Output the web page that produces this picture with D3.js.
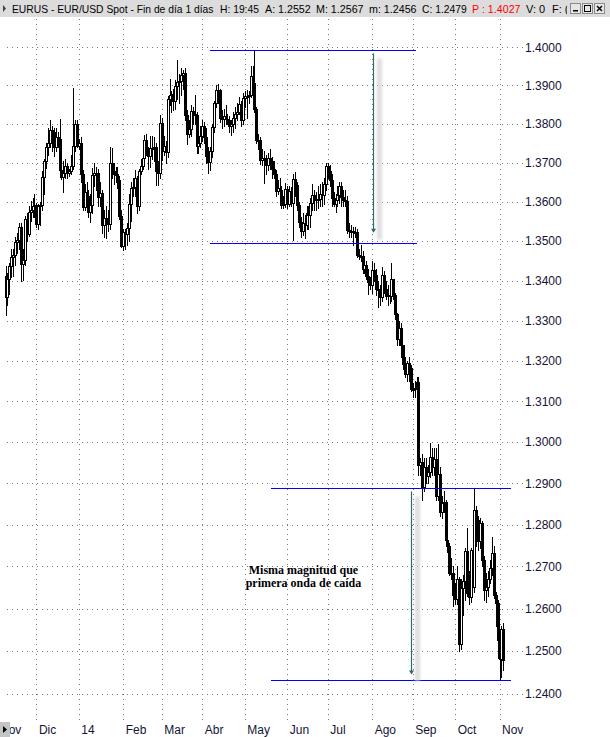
<!DOCTYPE html>
<html>
<head>
<meta charset="utf-8">
<script src="https://cdn.jsdelivr.net/npm/d3@7"></script>
<style>
  body { margin: 0; background: #fff; }
  svg { display: block; }
</style>
</head>
<body>
<svg id="chart" width="610" height="737"></svg>
<script>
// EUR/USD daily bars, one array per month: [open, high, low, close]
const nov13 = [
  [1.3412,1.3436,1.3315,1.3360],[1.3360,1.3418,1.3340,1.3405],[1.3405,1.3445,1.3366,1.3437],
  [1.3437,1.3480,1.3410,1.3460],[1.3460,1.3480,1.3412,1.3464],[1.3464,1.3510,1.3440,1.3497],
  [1.3497,1.3520,1.3470,1.3502],[1.3502,1.3545,1.3480,1.3535],[1.3535,1.3545,1.3400,1.3443],
  [1.3443,1.3480,1.3401,1.3451],[1.3451,1.3563,1.3440,1.3557],[1.3557,1.3570,1.3500,1.3519],
  [1.3519,1.3590,1.3512,1.3575],[1.3575,1.3601,1.3550,1.3580],[1.3580,1.3610,1.3560,1.3590],
  [1.3590,1.3620,1.3560,1.3591]
];
const dec13 = [
  [1.3591,1.3597,1.3535,1.3542],[1.3542,1.3595,1.3530,1.3588],[1.3588,1.3600,1.3540,1.3591],
  [1.3591,1.3678,1.3578,1.3663],[1.3663,1.3710,1.3620,1.3705],[1.3705,1.3750,1.3686,1.3741],
  [1.3741,1.3790,1.3720,1.3752],[1.3752,1.3811,1.3740,1.3784],[1.3784,1.3795,1.3730,1.3778],
  [1.3778,1.3790,1.3716,1.3741],[1.3741,1.3790,1.3730,1.3767],[1.3767,1.3780,1.3740,1.3761],
  [1.3761,1.3812,1.3680,1.3680],[1.3680,1.3700,1.3657,1.3662],[1.3662,1.3705,1.3625,1.3673],
  [1.3673,1.3710,1.3660,1.3692],[1.3692,1.3700,1.3660,1.3673],[1.3673,1.3685,1.3665,1.3678],
  [1.3678,1.3720,1.3670,1.3692],[1.3692,1.3893,1.3685,1.3743],[1.3743,1.3810,1.3730,1.3799],
  [1.3799,1.3810,1.3740,1.3743]
];
const jan14 = [
  [1.3743,1.3760,1.3735,1.3752],[1.3752,1.3765,1.3650,1.3672],[1.3672,1.3680,1.3580,1.3587],
  [1.3587,1.3645,1.3580,1.3625],[1.3625,1.3650,1.3595,1.3614],[1.3614,1.3630,1.3560,1.3575],
  [1.3575,1.3620,1.3548,1.3591],[1.3591,1.3687,1.3570,1.3668],[1.3668,1.3700,1.3640,1.3674],
  [1.3674,1.3690,1.3630,1.3673],[1.3673,1.3685,1.3590,1.3611],[1.3611,1.3650,1.3590,1.3621],
  [1.3621,1.3630,1.3520,1.3540],[1.3540,1.3580,1.3510,1.3558],[1.3558,1.3590,1.3508,1.3557],
  [1.3557,1.3580,1.3525,1.3542],[1.3542,1.3740,1.3530,1.3698],[1.3698,1.3738,1.3660,1.3678],
  [1.3678,1.3700,1.3645,1.3672],[1.3672,1.3690,1.3650,1.3670],[1.3670,1.3690,1.3635,1.3656],
  [1.3656,1.3665,1.3555,1.3564],[1.3564,1.3580,1.3485,1.3487]
];
const feb14 = [
  [1.3487,1.3530,1.3477,1.3522],[1.3522,1.3530,1.3480,1.3518],[1.3518,1.3545,1.3490,1.3532],
  [1.3532,1.3620,1.3500,1.3594],[1.3594,1.3650,1.3550,1.3635],[1.3635,1.3660,1.3615,1.3637],
  [1.3637,1.3680,1.3615,1.3661],[1.3661,1.3665,1.3572,1.3589],[1.3589,1.3685,1.3580,1.3679],
  [1.3679,1.3710,1.3670,1.3692],[1.3692,1.3735,1.3685,1.3712],[1.3712,1.3772,1.3700,1.3758],
  [1.3758,1.3773,1.3720,1.3727],[1.3727,1.3740,1.3685,1.3716],[1.3716,1.3770,1.3690,1.3738],
  [1.3738,1.3770,1.3710,1.3738],[1.3738,1.3765,1.3705,1.3741],[1.3741,1.3750,1.3643,1.3678],
  [1.3678,1.3705,1.3642,1.3673],[1.3673,1.3824,1.3660,1.3802]
];
const mar14 = [
  [1.3802,1.3815,1.3706,1.3731],[1.3731,1.3770,1.3720,1.3743],[1.3743,1.3755,1.3700,1.3728],
  [1.3728,1.3872,1.3715,1.3866],[1.3866,1.3916,1.3850,1.3874],[1.3874,1.3885,1.3830,1.3877],
  [1.3877,1.3890,1.3835,1.3860],[1.3860,1.3915,1.3840,1.3899],[1.3899,1.3967,1.3865,1.3909],
  [1.3909,1.3930,1.3855,1.3913],[1.3913,1.3945,1.3875,1.3928],[1.3928,1.3940,1.3890,1.3932],
  [1.3932,1.3945,1.3810,1.3823],[1.3823,1.3835,1.3749,1.3775],[1.3775,1.3810,1.3765,1.3786],
  [1.3786,1.3848,1.3770,1.3833],[1.3833,1.3845,1.3800,1.3825],[1.3825,1.3875,1.3800,1.3822],
  [1.3822,1.3830,1.3726,1.3742],[1.3742,1.3770,1.3725,1.3750],[1.3750,1.3795,1.3740,1.3769]
];
const apr14 = [
  [1.3769,1.3810,1.3755,1.3794],[1.3794,1.3805,1.3750,1.3767],[1.3767,1.3790,1.3700,1.3718],
  [1.3718,1.3740,1.3673,1.3703],[1.3703,1.3740,1.3680,1.3729],[1.3729,1.3800,1.3715,1.3792],
  [1.3792,1.3860,1.3780,1.3855],[1.3855,1.3900,1.3845,1.3889],[1.3889,1.3905,1.3855,1.3888],
  [1.3888,1.3890,1.3805,1.3815],[1.3815,1.3835,1.3790,1.3814],[1.3814,1.3840,1.3795,1.3820],
  [1.3820,1.3850,1.3800,1.3814],[1.3814,1.3825,1.3800,1.3811],[1.3811,1.3820,1.3780,1.3794],
  [1.3794,1.3810,1.3772,1.3800],[1.3800,1.3830,1.3780,1.3816],[1.3816,1.3845,1.3790,1.3827],
  [1.3827,1.3855,1.3810,1.3831],[1.3831,1.3870,1.3825,1.3851],[1.3851,1.3860,1.3795,1.3810],
  [1.3810,1.3880,1.3800,1.3867]
];
const may14 = [
  [1.3867,1.3885,1.3845,1.3873],[1.3873,1.3888,1.3815,1.3872],[1.3872,1.3885,1.3855,1.3875],
  [1.3875,1.3951,1.3870,1.3926],[1.3926,1.3950,1.3890,1.3907],[1.3907,1.3993,1.3830,1.3838],
  [1.3838,1.3845,1.3750,1.3759],[1.3759,1.3775,1.3735,1.3759],[1.3759,1.3765,1.3696,1.3708],
  [1.3708,1.3735,1.3695,1.3712],[1.3712,1.3730,1.3647,1.3712],[1.3712,1.3720,1.3670,1.3695],
  [1.3695,1.3725,1.3680,1.3712],[1.3712,1.3735,1.3685,1.3704],[1.3704,1.3715,1.3660,1.3684],
  [1.3684,1.3705,1.3660,1.3670],[1.3670,1.3680,1.3615,1.3627],[1.3627,1.3655,1.3620,1.3635],
  [1.3635,1.3660,1.3600,1.3631],[1.3631,1.3640,1.3585,1.3591],[1.3591,1.3615,1.3585,1.3595],
  [1.3595,1.3648,1.3586,1.3633]
];
const jun14 = [
  [1.3633,1.3640,1.3585,1.3593],[1.3593,1.3640,1.3590,1.3628],[1.3628,1.3637,1.3590,1.3598],
  [1.3598,1.3670,1.3503,1.3659],[1.3659,1.3677,1.3615,1.3642],[1.3642,1.3650,1.3580,1.3591],
  [1.3591,1.3600,1.3535,1.3549],[1.3549,1.3560,1.3510,1.3526],[1.3526,1.3570,1.3515,1.3547],
  [1.3547,1.3565,1.3507,1.3540],[1.3540,1.3590,1.3530,1.3570],[1.3570,1.3590,1.3530,1.3565],
  [1.3565,1.3610,1.3535,1.3597],[1.3597,1.3645,1.3580,1.3618],[1.3618,1.3630,1.3580,1.3606],
  [1.3606,1.3625,1.3580,1.3604],[1.3604,1.3640,1.3585,1.3607],[1.3607,1.3645,1.3590,1.3620],
  [1.3620,1.3650,1.3590,1.3618],[1.3618,1.3660,1.3595,1.3645],[1.3645,1.3700,1.3630,1.3692]
];
const jul14 = [
  [1.3692,1.3700,1.3660,1.3678],[1.3678,1.3695,1.3640,1.3655],[1.3655,1.3670,1.3590,1.3610],
  [1.3610,1.3625,1.3590,1.3595],[1.3595,1.3620,1.3575,1.3604],[1.3604,1.3640,1.3590,1.3617],
  [1.3617,1.3650,1.3598,1.3640],[1.3640,1.3650,1.3590,1.3611],[1.3611,1.3630,1.3590,1.3604],
  [1.3604,1.3630,1.3590,1.3602],[1.3602,1.3615,1.3520,1.3527],[1.3527,1.3545,1.3510,1.3525],
  [1.3525,1.3540,1.3510,1.3525],[1.3525,1.3536,1.3490,1.3524],[1.3524,1.3535,1.3510,1.3523],
  [1.3523,1.3530,1.3460,1.3465],[1.3465,1.3480,1.3455,1.3463],[1.3463,1.3490,1.3450,1.3461],
  [1.3461,1.3475,1.3420,1.3430],[1.3430,1.3450,1.3420,1.3440],[1.3440,1.3450,1.3405,1.3411],
  [1.3411,1.3430,1.3367,1.3396],[1.3396,1.3410,1.3380,1.3389]
];
const aug14 = [
  [1.3389,1.3450,1.3370,1.3428],[1.3428,1.3445,1.3400,1.3414],[1.3414,1.3430,1.3365,1.3380],
  [1.3380,1.3400,1.3333,1.3377],[1.3377,1.3390,1.3340,1.3359],[1.3359,1.3435,1.3350,1.3413],
  [1.3413,1.3425,1.3370,1.3379],[1.3379,1.3400,1.3355,1.3362],[1.3362,1.3390,1.3340,1.3364],
  [1.3364,1.3395,1.3345,1.3362],[1.3362,1.3445,1.3350,1.3403],[1.3403,1.3405,1.3355,1.3363],
  [1.3363,1.3370,1.3305,1.3316],[1.3316,1.3320,1.3240,1.3253],[1.3253,1.3300,1.3240,1.3282],
  [1.3282,1.3295,1.3210,1.3238],[1.3238,1.3240,1.3180,1.3191],[1.3191,1.3210,1.3160,1.3167],
  [1.3167,1.3200,1.3150,1.3194],[1.3194,1.3210,1.3150,1.3182],[1.3182,1.3190,1.3125,1.3131]
];
const sep14 = [
  [1.3131,1.3145,1.3110,1.3131],[1.3131,1.3150,1.3110,1.3132],[1.3132,1.3160,1.3120,1.3147],
  [1.3147,1.3160,1.2920,1.2944],[1.2944,1.2960,1.2920,1.2952],[1.2952,1.2970,1.2860,1.2890],
  [1.2890,1.2960,1.2880,1.2940],[1.2940,1.2960,1.2900,1.2917],[1.2917,1.2945,1.2900,1.2927],
  [1.2927,1.2997,1.2915,1.2963],[1.2963,1.2985,1.2920,1.2940],[1.2940,1.2985,1.2920,1.2958],
  [1.2958,1.2985,1.2860,1.2868],[1.2868,1.2995,1.2860,1.2922],[1.2922,1.2940,1.2820,1.2830],
  [1.2830,1.2870,1.2815,1.2853],[1.2853,1.2880,1.2830,1.2855],[1.2855,1.2860,1.2755,1.2763],
  [1.2763,1.2790,1.2735,1.2749],[1.2749,1.2755,1.2680,1.2684],[1.2684,1.2720,1.2670,1.2685],
  [1.2685,1.2700,1.2605,1.2631]
];
const oct14 = [
  [1.2631,1.2660,1.2610,1.2623],[1.2623,1.2700,1.2610,1.2669],[1.2669,1.2675,1.2500,1.2517],
  [1.2517,1.2670,1.2505,1.2649],[1.2649,1.2680,1.2585,1.2665],[1.2665,1.2745,1.2620,1.2736],
  [1.2736,1.2791,1.2630,1.2638],[1.2638,1.2690,1.2610,1.2628],[1.2628,1.2745,1.2615,1.2740],
  [1.2740,1.2755,1.2650,1.2652],[1.2652,1.2887,1.2640,1.2835],[1.2835,1.2845,1.2750,1.2812],
  [1.2812,1.2820,1.2740,1.2760],[1.2760,1.2815,1.2745,1.2804],[1.2804,1.2810,1.2700,1.2715],
  [1.2715,1.2725,1.2620,1.2645],[1.2645,1.2685,1.2615,1.2650],[1.2650,1.2690,1.2630,1.2669],
  [1.2669,1.2715,1.2660,1.2697],[1.2697,1.2770,1.2680,1.2733],[1.2733,1.2750,1.2625,1.2631],
  [1.2631,1.2640,1.2560,1.2613],[1.2613,1.2620,1.2484,1.2525]
];
const nov14 = [
  [1.2525,1.2535,1.2435,1.2482],[1.2482,1.2560,1.2440,1.2552],[1.2552,1.2567,1.2456,1.2479]
];

// Month labels on the time axis, in order; the first month starts before the first bar
const monthLabels = ["Nov", "Dic", "14", "Feb", "Mar", "Abr", "May", "Jun", "Jul", "Ago", "Sep", "Oct", "Nov"];
const monthBars = [nov13, dec13, jan14, feb14, mar14, apr14, may14, jun14, jul14, aug14, sep14, oct14, nov14];
const leadInDays = 5;   // weekdays of the first month before the first bar

// Price ticks on the right axis
const priceTicks = [1.40, 1.39, 1.38, 1.37, 1.36, 1.35, 1.34, 1.33, 1.32, 1.31, 1.30,
                    1.29, 1.28, 1.27, 1.26, 1.25, 1.24];

// Horizontal level lines (price, from bar index, to bar index)
const levelLines = [
  { price: 1.3993, from: 106, to: 212.7 },
  { price: 1.3495, from: 106, to: 213.2 },
  { price: 1.2888, from: 137.6, to: 262 },
  { price: 1.2433, from: 137.6, to: 262 }
];
// Vertical arrows measuring each leg of the fall (bar index, from price, to price)
const dropArrows = [
  { at: 190.5, from: 1.3984, to: 1.3521 },
  { at: 210.3, from: 1.2880, to: 1.2445 }
];
const noteLines = ["Misma magnitud que", "primera onda de caída"];
const note = { at: 154.4, price: 1.2683 };

// Title bar pieces: text, left edge, right limit
const titleParts = [
  { text: "EURUS - EUR/USD Spot - Fin de día 1 días", x: 12, end: 214, color: "#000" },
  { text: "H: 19:45", x: 220, end: 259, color: "#000" },
  { text: "A: 1.2552", x: 265, end: 311, color: "#000" },
  { text: "M: 1.2567", x: 316, end: 364, color: "#000" },
  { text: "m: 1.2456", x: 369, end: 417, color: "#000" },
  { text: "C: 1.2479", x: 422, end: 467, color: "#000" },
  { text: "P : 1.4027", x: 472, end: 521, color: "#ff0000" },
  { text: "V: 0", x: 526, end: 547, color: "#000" },
  { text: "F: (", x: 552, end: 580, color: "#000" }
];

// ---- build the bar list ----
const bars = [];
const monthStarts = [];
monthBars.forEach((m, mi) => {
  monthStarts.push(mi === 0 ? -leadInDays : bars.length);
  m.forEach(([o, h, l, c]) => bars.push({ i: bars.length, o, h, l, c }));
});

const svg = d3.select("#chart");
const sans = "'Liberation Sans', Arial, sans-serif";
const axisColor = "#141436";

const x = d3.scaleLinear().domain([0, bars.length - 1]).range([5.5, 503.4]);
const y = d3.scaleLog().domain([1.24, 1.40]).range([693.8, 47.3]);

const defs = svg.append("defs");
defs.append("filter").attr("id", "soft")
  .attr("x", "-100%").attr("y", "-10%").attr("width", "300%").attr("height", "120%")
  .append("feGaussianBlur").attr("stdDeviation", 1.6);
defs.append("clipPath").attr("id", "titleClip")
  .append("rect").attr("x", 0).attr("y", 0).attr("width", 567).attr("height", 18);

// ---- title bar ----
svg.append("rect").attr("x", 0).attr("y", 0).attr("width", 610).attr("height", 17).attr("fill", "#dcdcdc");
svg.append("path").attr("d", "M3,5 L6,8.5 L3,12 Z").attr("fill", "#404040");
const title = svg.append("g").attr("clip-path", "url(#titleClip)");
title.selectAll("text").data(titleParts).join("text")
  .attr("x", d => d.x).attr("y", 13)
  .attr("font-family", sans).attr("font-size", 11)
  .attr("fill", d => d.color)
  .text(d => d.text)
  .each(function (d) {
    // shrink a piece that would run into the next one
    const room = d.end - d.x;
    const w = this.getComputedTextLength();
    if (w > room) d3.select(this).attr("font-size", Math.floor(11 * room / w * 10) / 10);
  });

// window buttons
const btnX = [570, 582, 594];
const btns = svg.append("g");
btnX.forEach((bx, k) => {
  btns.append("rect").attr("x", bx + 0.5).attr("y", 3.5).attr("width", 10).attr("height", 10)
    .attr("fill", "#e6e6e6").attr("stroke", "#8a8a8a");
  if (k === 0) btns.append("rect").attr("x", bx + 3).attr("y", 10).attr("width", 5).attr("height", 1.5).attr("fill", "#000");
  if (k === 1) btns.append("rect").attr("x", bx + 2.5).attr("y", 5.5).attr("width", 6).attr("height", 6)
    .attr("fill", "none").attr("stroke", "#000").attr("stroke-width", 1);
  if (k === 2) btns.append("path").attr("d", `M${bx + 3},6 L${bx + 8},11 M${bx + 8},6 L${bx + 3},11`)
    .attr("stroke", "#000").attr("stroke-width", 1.4);
});

// ---- grid ----
const grid = svg.append("g").attr("stroke", "#7a7a7a").attr("stroke-width", 1)
  .attr("stroke-dasharray", "1,4").attr("shape-rendering", "crispEdges");
grid.selectAll("line.h").data(priceTicks).join("line")
  .attr("class", "h")
  .attr("x1", 7).attr("x2", 523)
  .attr("y1", d => Math.round(y(d)) + 0.5).attr("y2", d => Math.round(y(d)) + 0.5);
grid.selectAll("line.v").data(monthStarts.slice(1)).join("line")
  .attr("class", "v")
  .attr("x1", d => Math.round(x(d)) + 0.5).attr("x2", d => Math.round(x(d)) + 0.5)
  .attr("y1", 19).attr("y2", 720);

// ---- price labels ----
svg.append("g").selectAll("text").data(priceTicks).join("text")
  .attr("x", 525).attr("y", d => y(d) + 4.3)
  .attr("font-family", sans).attr("font-size", 12).attr("fill", axisColor)
  .text(d => d3.format(".4f")(d));

// ---- month labels (the first one runs under the scroll button) ----
svg.append("g").selectAll("text").data(monthLabels).join("text")
  .attr("x", (d, k) => Math.max(0, x(monthStarts[k]) + 2.5)).attr("y", 734)
  .attr("font-family", sans).attr("font-size", 12).attr("fill", axisColor)
  .text(d => d);
svg.append("rect").attr("x", 0).attr("y", 722).attr("width", 10).attr("height", 15).attr("fill", "#c4c4c4");
svg.append("path").attr("d", "M3,726 L7,729.5 L3,733 Z").attr("fill", "#000");

// ---- candlesticks ----
const candles = svg.append("g").attr("shape-rendering", "crispEdges");
bars.forEach(b => {
  const cx = Math.round(x(b.i));
  const g = candles.append("g");
  g.append("line")
    .attr("x1", cx + 0.5).attr("x2", cx + 0.5)
    .attr("y1", Math.round(y(b.h))).attr("y2", Math.round(y(b.l)) + 1)
    .attr("stroke", "#000").attr("stroke-width", 1);
  const top = Math.round(y(Math.max(b.o, b.c)));
  const bot = Math.round(y(Math.min(b.o, b.c)));
  const up = b.c >= b.o;
  g.append("rect")
    .attr("x", cx - 0.5).attr("y", top + 0.5)
    .attr("width", 2).attr("height", Math.max(bot - top, 1))
    .attr("fill", up ? "#fff" : "#000")
    .attr("stroke", "#000").attr("stroke-width", 1);
});

// ---- level lines ----
svg.append("g").attr("shape-rendering", "crispEdges")
  .selectAll("line").data(levelLines).join("line")
  .attr("x1", d => x(d.from)).attr("x2", d => x(d.to))
  .attr("y1", d => Math.round(y(d.price)) + 0.5).attr("y2", d => Math.round(y(d.price)) + 0.5)
  .attr("stroke", "#0000ff").attr("stroke-width", 1);

// ---- measuring arrows with soft shadows ----
const arrows = svg.append("g");
dropArrows.forEach(a => {
  const ax = Math.round(x(a.at)) + 0.5;
  const y1 = y(a.from), y2 = y(a.to);
  arrows.append("rect")
    .attr("x", ax + 3.5).attr("y", y1 + 5).attr("width", 5).attr("height", y2 - y1 + 2)
    .attr("fill", "#d2d2d2").attr("opacity", 0.75).attr("filter", "url(#soft)");
  arrows.append("line")
    .attr("x1", ax).attr("x2", ax).attr("y1", y1).attr("y2", y2 - 1)
    .attr("stroke", "#2e6b6e").attr("stroke-width", 1.2);
  arrows.append("path")
    .attr("d", `M${ax - 2.5},${y2 - 4} L${ax},${y2} L${ax + 2.5},${y2 - 4} Z`)
    .attr("fill", "#2e6b6e");
});

// ---- note ----
svg.append("g").selectAll("text").data(noteLines).join("text")
  .attr("x", x(note.at)).attr("y", (d, k) => y(note.price) + k * 13)
  .attr("text-anchor", "middle")
  .attr("font-family", "'Liberation Serif', 'Times New Roman', serif")
  .attr("font-weight", "bold").attr("font-size", 12).attr("fill", "#000")
  .text(d => d);
</script>
</body>
</html>
